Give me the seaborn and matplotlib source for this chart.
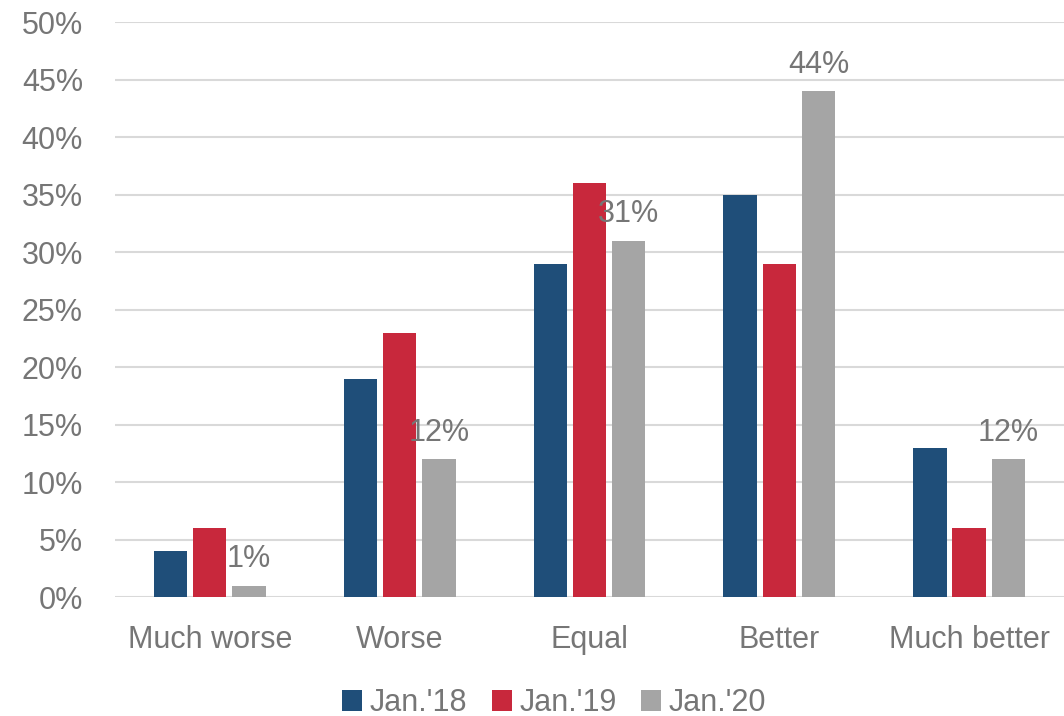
import numpy as np
import pandas as pd
import matplotlib
matplotlib.use('Agg')
import matplotlib.pyplot as plt
import seaborn as sns

# data (percent)
categories = ['Much worse', 'Worse', 'Equal', 'Better', 'Much better']
series = ["Jan.'18", "Jan.'19", "Jan.'20"]
jan18 = [4, 19, 29, 35, 13]
jan19 = [6, 23, 36, 29, 6]
jan20 = [1, 12, 31, 44, 12]
yticks = [0, 5, 10, 15, 20, 25, 30, 35, 40, 45, 50]

colors = ['#1F4E79', '#C8283C', '#A5A5A5']
txt = '#767676'
fs = 22

df = pd.DataFrame({
    'cat': categories * 3,
    'serie': [series[0]] * 5 + [series[1]] * 5 + [series[2]] * 5,
    'val': jan18 + jan19 + jan20,
})

sns.set_theme(style='white')
plt.rcParams['font.family'] = ['Liberation Sans', 'DejaVu Sans']

fig = plt.figure(figsize=(10.64, 7.16), dpi=100)
ax = fig.add_axes([0.108, 0.166, 0.892, 0.803])

sns.barplot(data=df, x='cat', y='val', hue='serie', order=categories,
            hue_order=series, palette=colors, width=0.62, gap=0.15,
            saturation=1, linewidth=0, ax=ax, legend=True)

# labels only on the Jan.'20 bars
for i, v in enumerate(jan20):
    bar = ax.containers[2][i]
    ax.text(bar.get_x() + bar.get_width() / 2, v + 1.0, str(v) + '%',
            ha='center', va='bottom', fontsize=fs, color=txt)

ax.set_ylim(0, 50)
ax.set_xlim(-0.5, 4.5)
ax.set_yticks(yticks)
ax.set_yticklabels([str(t) + '%' for t in yticks])
ax.yaxis.grid(True, color='#D9D9D9', linewidth=1.5)
ax.set_axisbelow(True)
for s in ax.spines.values():
    s.set_visible(False)
ax.tick_params(axis='both', colors=txt, labelsize=fs, length=0)
ax.tick_params(axis='y', pad=23)
ax.tick_params(axis='x', pad=20)
ax.set_xlabel('')
ax.set_ylabel('')

ax.legend(loc='upper center', bbox_to_anchor=(0.463, -0.137), ncol=3,
          frameon=False, fontsize=fs, labelcolor=txt, handlelength=0.65,
          handleheight=0.65, handletextpad=0.25, columnspacing=0.8,
          borderaxespad=0)

plt.savefig('out.png', dpi=100)
